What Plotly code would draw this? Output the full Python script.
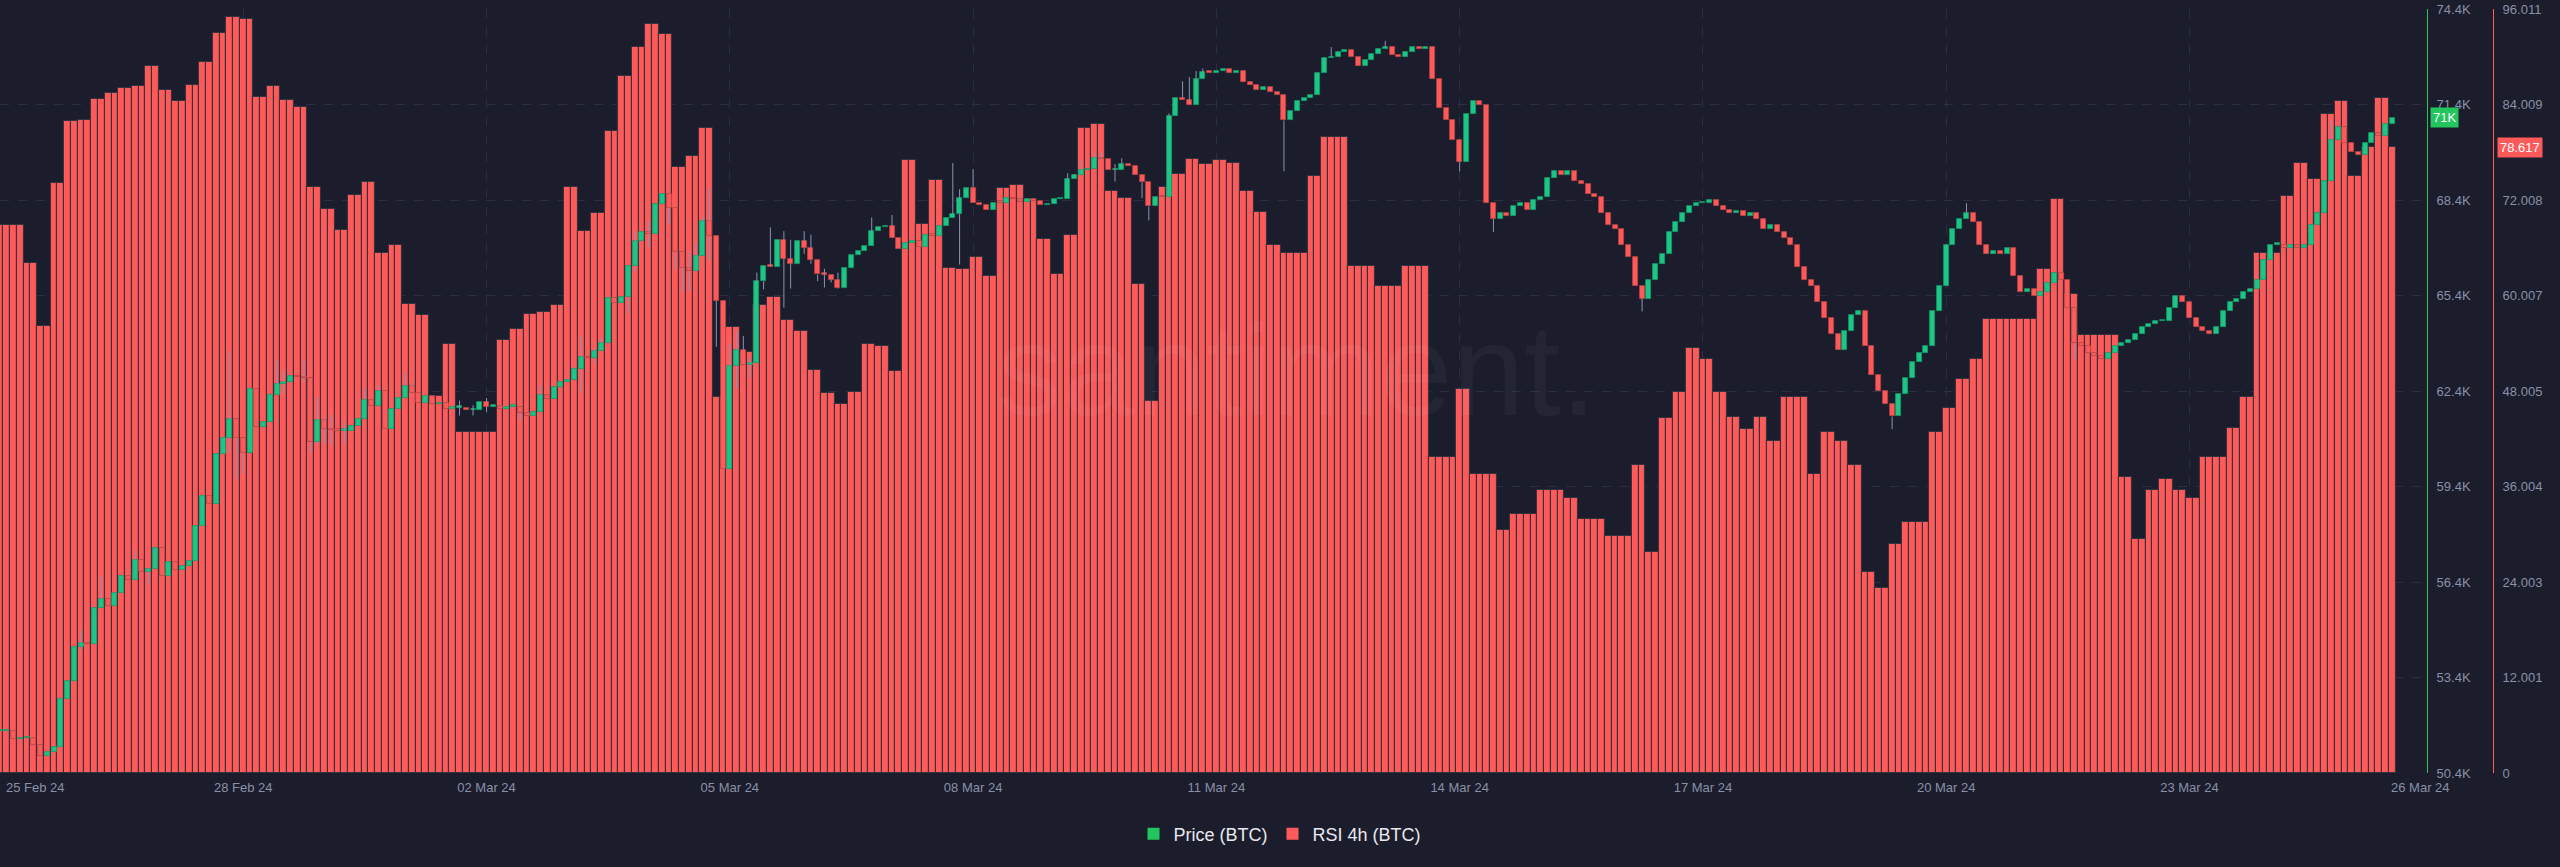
import plotly.graph_objects as go
import pandas as pd

# ---------------- data ----------------
# RSI 4h values (one per 4h period, each spans two 2h slots)
rsi_4h = [
    68.9, 68.9, 64.1, 56.2, 74.1, 81.9, 82.1, 84.7, 85.4, 86.1,
    86.3, 88.8, 85.8, 84.5, 86.5, 89.4, 93.0, 95.0, 94.8, 85.0,
    86.3, 84.6, 83.7, 73.7, 70.9, 68.2, 72.6, 74.3, 65.4, 66.4,
    58.9, 57.6, 47.4, 53.9, 42.9, 42.9, 42.9, 54.4, 55.8, 57.7,
    57.9, 58.8, 73.6, 68.1, 70.4, 80.7, 87.6, 91.2, 94.1, 92.9,
    76.2, 77.6, 81.1, 47.3, 56.0, 52.9, 58.8, 59.8, 56.9, 55.6,
    50.6, 47.8, 46.4, 47.9, 53.9, 53.7, 50.5, 77.0, 69.0, 74.5,
    63.5, 63.3, 64.8, 62.5, 73.5, 73.9, 72.1, 67.1, 62.7, 67.6,
    81.0, 81.5, 73.1, 72.3, 61.4, 46.8, 73.7, 75.3, 77.1, 76.5,
    77.0, 76.6, 73.1, 70.5, 66.4, 65.3, 65.3, 75.0, 79.9, 79.9,
    63.7, 63.7, 61.2, 61.2, 63.7, 63.7, 39.7, 39.7, 48.3, 37.6,
    37.6, 30.5, 32.5, 32.5, 35.6, 35.6, 34.6, 31.9, 31.9, 29.8,
    29.8, 38.7, 27.8, 44.6, 47.9, 53.4, 52.0, 47.9, 44.8, 43.2,
    44.8, 41.7, 47.3, 47.3, 37.6, 42.8, 41.7, 38.7, 25.3, 23.3,
    28.8, 31.5, 31.5, 42.8, 45.9, 49.5, 52.0, 57.1, 57.1, 57.1,
    57.1, 63.3, 72.1, 60.2, 55.1, 55.1, 55.1, 37.2, 29.4, 35.6,
    37.0, 35.6, 34.6, 39.7, 39.7, 43.4, 47.3, 65.3, 65.3, 72.5,
    76.6, 74.6, 82.8, 84.4, 75.0, 78.7, 84.8, 78.617,
]

# BTC 2h closes (thousand USD)
first_open = 51.71
close = [
    51.71, 51.71, 51.46, 51.50, 51.50, 51.29, 50.93, 51.05, 51.21, 52.72,
    53.30, 54.37, 54.49, 54.45, 55.58, 55.88, 55.65, 56.05, 56.58, 56.47,
    57.10, 56.71, 56.82, 57.46, 56.60, 57.02, 56.79, 56.91, 57.05, 58.15,
    59.10, 58.85, 60.43, 60.93, 61.52, 60.93, 60.46, 62.45, 61.27, 61.43,
    62.29, 62.62, 62.68, 62.88, 62.84, 62.80, 60.80, 61.48, 61.21, 61.17,
    61.15, 61.15, 61.29, 61.51, 62.13, 61.93, 62.41, 61.21, 61.84, 62.18,
    62.57, 62.34, 62.02, 62.23, 61.98, 62.02, 61.84, 61.87, 61.87, 61.79,
    61.79, 62.05, 61.90, 61.93, 61.82, 61.90, 61.90, 61.71, 61.60, 61.74,
    62.26, 62.15, 62.54, 62.69, 62.76, 63.10, 63.48, 63.43, 63.66, 63.90,
    65.31, 65.18, 65.35, 66.32, 67.10, 67.38, 67.34, 68.28, 68.59, 68.15,
    66.77, 66.27, 66.17, 66.63, 67.73, 67.26, 65.23, 59.95, 63.17, 63.70,
    63.23, 63.27, 65.85, 66.32, 66.30, 67.15, 66.56, 66.40, 67.10, 66.90,
    66.51, 66.06, 66.05, 65.90, 65.65, 66.27, 66.68, 66.79, 66.95, 67.42,
    67.54, 67.57, 67.21, 66.87, 67.06, 67.10, 66.92, 67.31, 67.28, 67.57,
    67.85, 67.96, 68.46, 68.79, 68.32, 68.24, 68.09, 68.32, 68.31, 68.46,
    68.43, 68.35, 68.43, 68.38, 68.23, 68.28, 68.43, 68.43, 69.06, 69.18,
    69.34, 69.37, 69.71, 69.68, 69.34, 69.34, 69.53, 69.48, 69.18, 68.96,
    68.20, 68.51, 68.48, 71.04, 71.62, 71.53, 71.40, 72.21, 72.42, 72.40,
    72.45, 72.50, 72.40, 72.45, 72.10, 72.00, 71.85, 71.95, 71.80, 71.70,
    70.90, 71.20, 71.50, 71.60, 71.70, 72.40, 72.85, 72.90, 73.05, 73.10,
    72.90, 72.60, 72.80, 73.00, 73.15, 73.20, 72.95, 72.90, 73.05, 73.20,
    73.15, 73.20, 72.20, 71.30, 70.90, 70.30, 69.60, 71.10, 71.50, 71.40,
    68.30, 67.80, 68.00, 67.90, 68.20, 68.30, 68.10, 68.40, 68.50, 69.10,
    69.30, 69.20, 69.30, 69.00, 68.90, 68.60, 68.50, 68.00, 67.60, 67.50,
    67.00, 66.60, 65.70, 65.30, 65.90, 66.40, 66.70, 67.40, 67.70, 68.00,
    68.20, 68.30, 68.30, 68.40, 68.20, 68.10, 68.00, 68.05, 67.90, 68.00,
    67.80, 67.50, 67.60, 67.40, 67.20, 67.00, 66.30, 65.90, 65.70, 65.20,
    64.70, 64.20, 63.70, 64.30, 64.80, 64.90, 63.80, 62.90, 62.40, 62.00,
    61.60, 62.30, 62.80, 63.30, 63.60, 63.80, 64.90, 65.70, 67.00, 67.50,
    67.80, 68.00, 67.70, 67.00, 66.70, 66.80, 66.70, 66.90, 66.00, 65.50,
    65.60, 65.40, 65.50, 65.80, 66.10, 65.90, 65.00, 63.90, 63.80, 63.60,
    63.50, 63.40, 63.60, 63.80, 63.90, 64.00, 64.20, 64.40, 64.50, 64.60,
    64.60, 65.00, 65.40, 65.20, 64.70, 64.40, 64.30, 64.20, 64.40, 64.90,
    65.20, 65.30, 65.50, 65.60, 65.90, 66.50, 67.00, 67.00, 66.90, 67.00,
    66.90, 67.00, 67.60, 68.00, 69.00, 70.30, 70.70, 70.20, 69.90, 69.80,
    70.20, 70.50, 70.40, 70.80, 70.98,
]

# notable wick extremes (candle index -> price, thousand USD)
wick_high = {
    12: 54.87, 15: 56.58, 20: 57.37, 34: 63.66, 41: 63.35, 42: 63.04, 45: 63.35,
    47: 62.21, 48: 61.55, 49: 61.66, 51: 61.40, 54: 62.49, 56: 62.57, 60: 62.96,
    61: 62.65, 68: 62.10, 70: 61.95, 72: 62.18, 80: 62.57, 85: 63.15, 86: 64.13,
    88: 63.74, 89: 64.06, 94: 67.41, 96: 67.73, 102: 66.79, 103: 67.06, 104: 67.88,
    105: 68.77, 108: 63.90, 109: 64.29, 110: 64.13, 111: 63.43, 112: 66.12,
    114: 67.54, 116: 67.42, 117: 67.15, 119: 67.42, 120: 67.31, 122: 66.24,
    124: 66.12, 129: 67.85, 132: 67.93, 141: 69.56, 142: 68.74, 144: 69.37,
    158: 69.24, 159: 69.21, 160: 69.65, 162: 69.87, 163: 69.92, 165: 69.53,
    166: 69.71, 173: 71.12, 175: 72.13, 176: 72.26, 177: 72.45, 178: 72.53,
    197: 73.20, 205: 73.40, 291: 68.30, 345: 70.90,
}
wick_low = {
    12: 54.29, 22: 56.32, 34: 60.46, 35: 59.63, 36: 59.79, 42: 62.33, 45: 62.65,
    46: 60.46, 47: 60.70, 48: 60.74, 49: 60.70, 51: 60.77, 68: 61.63, 70: 61.63,
    72: 61.74, 77: 61.48, 86: 62.33, 88: 63.27, 93: 64.84, 94: 66.17, 96: 66.91,
    99: 67.65, 100: 66.24, 101: 65.54, 102: 65.54, 103: 66.24, 105: 66.48,
    106: 63.79, 109: 62.49, 111: 62.80, 113: 65.59, 116: 65.02, 117: 65.62,
    119: 66.71, 120: 66.40, 121: 65.85, 122: 65.65, 123: 65.81, 124: 65.62,
    125: 65.70, 142: 66.37, 165: 68.98, 169: 68.46, 170: 67.76, 190: 69.30,
    216: 69.30, 221: 67.40, 243: 64.90, 280: 61.20, 307: 63.40,
}

price_ticks = [50.4, 53.4, 56.4, 59.4, 62.4, 65.4, 68.4, 71.4, 74.4]
price_labels = ["50.4K", "53.4K", "56.4K", "59.4K", "62.4K", "65.4K", "68.4K", "71.4K", "74.4K"]
rsi_ticks = [0, 12.0014, 24.0028, 36.0041, 48.0055, 60.0069, 72.0083, 84.0096, 96.011]
rsi_labels = ["0", "12.001", "24.003", "36.004", "48.005", "60.007", "72.008", "84.009", "96.011"]
date_ticks = ["2024-02-25", "2024-02-28", "2024-03-02", "2024-03-05", "2024-03-08", "2024-03-11",
              "2024-03-14", "2024-03-17", "2024-03-20", "2024-03-23"]
date_labels = ["", "28 Feb 24", "02 Mar 24", "05 Mar 24", "08 Mar 24", "11 Mar 24",
               "14 Mar 24", "17 Mar 24", "20 Mar 24", "23 Mar 24"]
last_price_label = "71K"
last_price = 70.98
last_rsi = 78.617

# ---------------- derived ----------------
start = pd.Timestamp("2024-02-25 00:00")
n = len(close)
x = [start + pd.Timedelta(hours=2 * k) for k in range(n)]
opens = [first_open] + close[:-1]
body_hi = [max(o, c) for o, c in zip(opens, close)]
body_lo = [min(o, c) for o, c in zip(opens, close)]
highs = [max(body_hi[k], wick_high.get(k, body_hi[k])) for k in range(n)]
lows = [min(body_lo[k], wick_low.get(k, body_lo[k])) for k in range(n)]
body_h = [max(h - l, 0.045) for h, l in zip(body_hi, body_lo)]
rsi_bars = [rsi_4h[min(k // 2, len(rsi_4h) - 1)] for k in range(n)]

BG = "#1b1d2d"
RED = "#ff5a5a"
GREEN = "#22c55e"
CAND_UP = "#1fc487"
CAND_UP_EDGE = "#139a66"
CAND_DN = "#ff5a5a"
CAND_DN_EDGE = "#b84444"
TICK = "#8a90a6"
GRID = "#2b2e44"

up = [c >= o for o, c in zip(opens, close)]
body_col = [CAND_UP if u else CAND_DN for u in up]
edge_col = [CAND_UP_EDGE if u else CAND_DN_EDGE for u in up]

# wick segments above and below the bodies
wx, wy = [], []
for k in range(n):
    if highs[k] > body_hi[k]:
        wx += [x[k], x[k], None]
        wy += [body_hi[k], highs[k], None]
    if lows[k] < body_lo[k]:
        wx += [x[k], x[k], None]
        wy += [lows[k], body_lo[k], None]

SLOT = 2 * 3600 * 1000

fig = go.Figure()
fig.add_trace(go.Bar(
    x=x, y=rsi_bars, yaxis="y", width=SLOT,
    marker=dict(color=RED, line=dict(color="#33323f", width=1.1)),
    showlegend=False, name="RSI 4h (BTC)",
))
fig.add_trace(go.Bar(
    x=x, y=body_h, base=body_lo, yaxis="y2", width=SLOT * 0.74,
    marker=dict(color=body_col, line=dict(color=edge_col, width=0.8)),
    showlegend=False, name="Price (BTC)",
))
fig.add_trace(go.Scatter(
    x=wx, y=wy, yaxis="y2", mode="lines",
    line=dict(color="#8d92b2", width=1), showlegend=False, hoverinfo="skip",
))
# legend entries
fig.add_trace(go.Scatter(x=[None], y=[None], mode="markers", name="Price (BTC)",
                         marker=dict(symbol="square", size=12, color=GREEN)))
fig.add_trace(go.Scatter(x=[None], y=[None], mode="markers", name="RSI 4h (BTC)",
                         marker=dict(symbol="square", size=12, color=RED)))

W, H = 2560, 867
fig.update_layout(
    width=W, height=H,
    margin=dict(l=0, r=0, t=9, b=94),
    paper_bgcolor=BG, plot_bgcolor=BG,
    font=dict(family="Liberation Sans, Arial, sans-serif", color=TICK, size=13),
    barmode="overlay", bargap=0,
    xaxis=dict(
        domain=[0, 2427 / W], type="date",
        range=[start, start + pd.Timedelta(hours=718.3)],
        tickvals=date_ticks, ticktext=date_labels,
        showgrid=True, gridcolor=GRID, griddash="dash", gridwidth=1,
        zeroline=False, showline=False, ticks="",
        tickfont=dict(color=TICK, size=13), ticklabelstandoff=5,
        automargin=False,
    ),
    yaxis=dict(
        anchor="free", position=2493 / W, side="right",
        range=[0, 96.011], tickvals=rsi_ticks, ticktext=rsi_labels,
        showgrid=True, gridcolor=GRID, griddash="dash", gridwidth=1,
        zeroline=False, showline=True, linecolor=RED, linewidth=1,
        ticks="", tickfont=dict(color=TICK, size=13), automargin=False,
        ticklabelstandoff=6,
    ),
    yaxis2=dict(
        overlaying="y", anchor="x", side="right",
        range=[50.4, 74.4], tickvals=price_ticks, ticktext=price_labels,
        showgrid=False, zeroline=False, showline=True, linecolor=GREEN, linewidth=1,
        ticks="", tickfont=dict(color=TICK, size=13), automargin=False,
        ticklabelstandoff=6,
    ),
    legend=dict(
        orientation="h", x=0.5, xanchor="center", y=-0.08, yanchor="middle",
        font=dict(color="#e8e8ee", size=18), bgcolor="rgba(0,0,0,0)",
        itemwidth=30, traceorder="normal",
    ),
    showlegend=True,
)

fig.add_annotation(text="25 Feb 24", xref="paper", yref="paper", x=4 / W, y=-(787 - 773) / 764,
                   xanchor="left", yanchor="middle", showarrow=False,
                   font=dict(color=TICK, size=13))
fig.add_annotation(text="26 Mar 24", xref="paper", yref="paper", x=2420 / W, y=-(787 - 773) / 764,
                   xanchor="center", yanchor="middle", showarrow=False,
                   font=dict(color=TICK, size=13))
fig.add_annotation(text="santiment.", xref="paper", yref="paper", x=1297 / W, y=(773 - 370) / 764,
                   xanchor="center", yanchor="middle", showarrow=False,
                   font=dict(color="rgba(255,255,255,0.04)", size=130))
fig.add_annotation(text=last_price_label, xref="paper", yref="y2", x=2430 / W, y=last_price,
                   xanchor="left", yanchor="middle", showarrow=False, bgcolor=GREEN,
                   borderpad=2, font=dict(color="#ffffff", size=13))
fig.add_annotation(text=f"{last_rsi:.3f}", xref="paper", yref="y", x=2497 / W, y=last_rsi,
                   xanchor="left", yanchor="middle", showarrow=False, bgcolor=RED,
                   borderpad=2, font=dict(color="#ffffff", size=13))

fig.write_html("out.html")
